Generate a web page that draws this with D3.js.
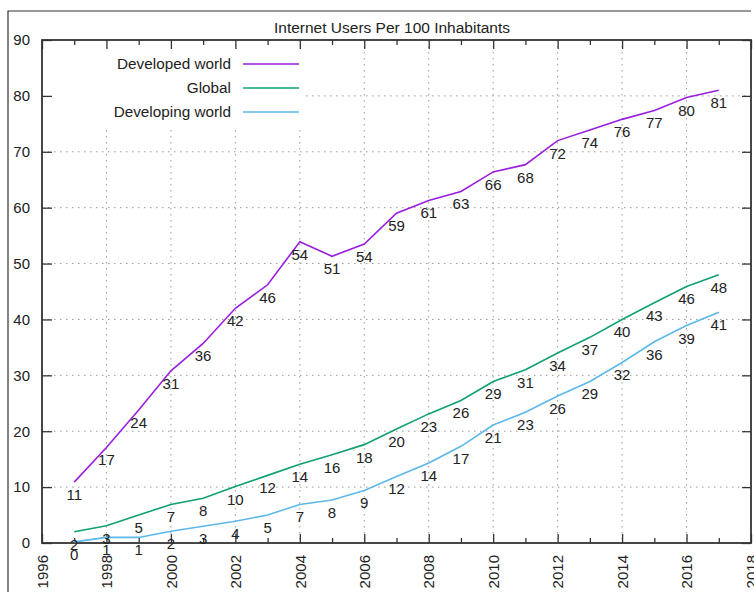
<!DOCTYPE html>
<html><head><meta charset="utf-8">
<script src="https://cdn.jsdelivr.net/npm/d3@7"></script>
<style>body{margin:0;background:#fff;} svg{display:block;} text{font-family:"Liberation Sans",Arial,sans-serif;fill:#222;}</style>
</head><body>
<svg id="c" width="754" height="592"></svg>
<script>
const years = [1997,1998,1999,2000,2001,2002,2003,2004,2005,2006,2007,2008,2009,2010,2011,2012,2013,2014,2015,2016,2017];
const developed = [10.9,17.1,23.8,30.8,35.7,42.0,46.2,53.9,51.3,53.5,59.0,61.3,62.9,66.4,67.7,72.0,73.9,75.8,77.4,79.7,81.0];
const global = [2.0,3.1,5.0,6.9,8.0,10.1,12.1,14.1,15.8,17.6,20.4,23.1,25.5,28.9,31.0,34.0,36.8,40.0,43.0,45.9,48.0];
const developing = [0.2,1.0,1.0,2.1,3.0,3.9,5.0,6.9,7.7,9.4,11.9,14.3,17.3,21.1,23.4,26.3,28.9,32.3,36.0,38.9,41.3];
const seriesNames = ["Developed world","Global","Developing world"];
const seriesColors = ["#9a1ee0","#0fa074","#5cb8ea"];
const xTicks = d3.range(1996, 2019, 2);
const yTicks = d3.range(0, 91, 10);
const title = "Internet Users Per 100 Inhabitants";

const svg = d3.select("#c");
const L = 42, R = 751, T = 40, B = 543;
const x = d3.scaleLinear().domain([1996, 2018]).range([L, R]);
const y = d3.scaleLinear().domain([0, 90]).range([B, T]);

// outer frame
svg.append("path").attr("d", `M8,600 V11 H751`).attr("fill","none").attr("stroke","#333").attr("stroke-width",1.2);

// grid
const grid = svg.append("g").attr("stroke","#9a9a9a").attr("stroke-width",1).attr("stroke-dasharray","1.5,4.5");
xTicks.filter(t => t > 1996 && t < 2018).forEach(t => grid.append("line").attr("x1",x(t)).attr("x2",x(t)).attr("y1",T).attr("y2",B));
yTicks.filter(t => t > 0 && t < 90).forEach(t => grid.append("line").attr("x1",L).attr("x2",R).attr("y1",y(t)).attr("y2",y(t)));

// legend background (opaque)
svg.append("rect").attr("x",L+1).attr("y",T+1).attr("width",262).attr("height",87).attr("fill","#fff");

const fontSize = 15;
const xMajor = d3.axisBottom(x).tickValues(xTicks).tickSize(-9).tickFormat(d3.format("d"));
const xMinor = d3.axisBottom(x).tickValues(d3.range(1997, 2018, 2)).tickSize(-5).tickFormat("");
const gx = svg.append("g").attr("transform",`translate(0,${B})`).call(xMajor);
svg.append("g").attr("transform",`translate(0,${B})`).call(xMinor);
svg.append("g").attr("transform",`translate(0,${T})`).call(d3.axisTop(x).tickValues(xTicks).tickSize(-9).tickFormat(""));
svg.append("g").attr("transform",`translate(0,${T})`).call(d3.axisTop(x).tickValues(d3.range(1997, 2018, 2)).tickSize(-5).tickFormat(""));
const gy = svg.append("g").attr("transform",`translate(${L},0)`).call(d3.axisLeft(y).tickValues(yTicks).tickSize(-10).tickPadding(12));
svg.append("g").attr("transform",`translate(${R},0)`).call(d3.axisRight(y).tickValues(yTicks).tickSize(-9).tickFormat(""));
svg.selectAll(".domain").remove();
svg.selectAll(".tick line").attr("stroke","#333").attr("stroke-width",1.3);
gx.selectAll("text").attr("transform","rotate(-90)").attr("text-anchor","end").attr("dx",0).attr("dy","0.35em")
  .attr("x",-12).attr("y",0).style("font-size",fontSize+"px").attr("fill","#222");
gy.selectAll("text").style("font-size",fontSize+"px").attr("fill","#222");

// border
svg.append("rect").attr("x",L).attr("y",T).attr("width",R-L).attr("height",B-T).attr("fill","none").attr("stroke","#333").attr("stroke-width",1.8);

// title
svg.append("text").attr("x",392).attr("y",33).attr("text-anchor","middle").style("font-size","15.5px").text(title);

// series
const all = [developed, global, developing];
const line = d3.line().x((d,i)=>x(years[i])).y(d=>y(d));
all.forEach((s, k) => {
  svg.append("path").datum(s).attr("d", line).attr("fill","none").attr("stroke", seriesColors[k]).attr("stroke-width",1.6);
});
all.forEach((s, k) => {
  svg.append("g").selectAll("text").data(s).join("text")
    .attr("x",(d,i)=>x(years[i])).attr("y",d=>y(d)+18).attr("text-anchor","middle")
    .style("font-size",fontSize+"px").text(d=>Math.round(d));
});

// legend
const lg = svg.append("g");
seriesNames.forEach((n,k) => {
  const yy = 64 + k*24;
  lg.append("text").attr("x",231).attr("y",yy).attr("dy","0.35em").attr("text-anchor","end").style("font-size","15.3px").text(n);
  lg.append("line").attr("x1",243).attr("x2",299).attr("y1",yy).attr("y2",yy).attr("stroke",seriesColors[k]).attr("stroke-width",1.6);
});
</script>
</body></html>
